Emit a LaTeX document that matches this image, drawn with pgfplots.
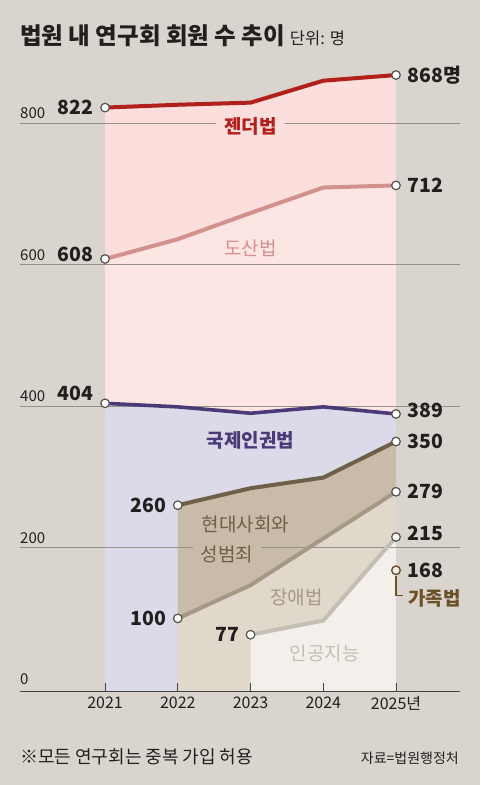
\documentclass[border=0pt]{standalone}
\usepackage{fontspec}
\setmainfont{Noto Sans CJK KR}
\usepackage{pgfplots}
\pgfplotsset{compat=1.18}
\definecolor{bg}{RGB}{217,213,206}
\definecolor{pinkA}{RGB}{252,222,221}
\definecolor{pinkB}{RGB}{253,229,228}
\definecolor{lav}{RGB}{220,218,232}
\definecolor{taupe}{RGB}{200,187,168}
\definecolor{beige}{RGB}{224,216,203}
\definecolor{light}{RGB}{243,240,236}
\definecolor{genderc}{RGB}{178,32,28}
\definecolor{dosanc}{RGB}{210,145,140}
\definecolor{gukjec}{RGB}{75,58,120}
\definecolor{hyeonc}{RGB}{110,96,72}
\definecolor{jangc}{RGB}{165,152,132}
\definecolor{aic}{RGB}{196,190,180}
\definecolor{gajokc}{RGB}{107,80,40}
\definecolor{gridc}{RGB}{150,145,138}
\definecolor{axisc}{RGB}{70,68,65}
\definecolor{txt}{RGB}{34,32,30}
\definecolor{markc}{RGB}{85,82,78}
\newcommand\vlf{\fontsize{19.5}{19.5}\bfseries}
\newcommand\serl{\fontsize{19}{19}\selectfont}
\newcommand\tlf{\fontsize{15}{15}\selectfont}
\begin{document}
\begin{tikzpicture}[x=1pt,y=1pt]
\fill[bg] (0,0) rectangle (480,785);
\node[anchor=base west, inner sep=0, text=txt] at (20,740) {{\fontsize{23.5}{23.5}\bfseries 법원 내 연구회 회원 수 추이}\hspace{5pt}{\fontsize{16.5}{16.5}\selectfont 단위: 명}};
\node[anchor=base west, inner sep=0, text=txt] at (20,21) {\fontsize{18}{18}\selectfont ※모든 연구회는 중복 가입 허용};
\node[anchor=base east, inner sep=0, text=txt] at (459,21) {\fontsize{14}{14}\selectfont 자료=법원행정처};
\begin{axis}[at={(20pt,93pt)}, anchor=south west, scale only axis,
  width=440pt, height=639.6pt,
  xmin=2019.83, xmax=2025.88, ymin=-4, ymax=900,
  axis x line=bottom, axis y line=none,
  x axis line style={-, draw=axisc, line width=1pt},
  xtick={2021,2022,2023,2024,2025},
  xticklabels={2021,2022,2023,2024,2025년},
  tick align=inside, major tick length=9pt,
  xtick style={draw=axisc, line width=0.8pt},
  xticklabel style={font=\fontsize{16}{16}\selectfont, text=txt, yshift=-1pt},
  ytick=\empty, clip=false, axis on top]
% fills
\addplot[draw=none, fill=pinkA] coordinates {(2021,-4) (2021,822) (2022,826) (2023,829) (2024,860) (2025,868) (2025,-4)} -- cycle;
\addplot[draw=none, fill=pinkB] coordinates {(2021,-4) (2021,608) (2022,636) (2023,673) (2024,709) (2025,712) (2025,-4)} -- cycle;
\addplot[draw=none, fill=lav] coordinates {(2021,-4) (2021,404) (2022,399) (2023,390) (2024,399) (2025,389) (2025,-4)} -- cycle;
\addplot[draw=none, fill=taupe] coordinates {(2022,-4) (2022,260) (2023,284) (2024,299) (2025,350) (2025,-4)} -- cycle;
\addplot[draw=none, fill=beige] coordinates {(2022,-4) (2022,100) (2023,147) (2024,213) (2025,279) (2025,-4)} -- cycle;
\addplot[draw=none, fill=light] coordinates {(2023,-4) (2023,77) (2024,97) (2025,215) (2025,-4)} -- cycle;
% grid
\foreach \v in {200,400,600,800} {
  \edef\temp{\noexpand\draw[gridc, line width=0.7pt] (axis cs:2019.83,\v) -- (axis cs:2025.88,\v);}
  \temp
}
\foreach \v in {0,200,400,600,800} {
  \edef\temp{\noexpand\node[anchor=south west, inner sep=0, text=txt, font=\noexpand\tlf] at ([yshift=4pt]axis cs:2019.83,\v) {\v};}
  \temp
}
% series labels
\node[font=\serl\bfseries, text=genderc, fill=pinkA, inner xsep=8pt, inner ysep=3pt] at (axis cs:2023,796) {젠더법};
\node[font=\serl, text=dosanc] at (axis cs:2023,623) {도산법};
\node[font=\serl\bfseries, text=gukjec] at (axis cs:2023,351) {국제인권법};
\node[font=\serl, text=hyeonc, anchor=west, inner sep=1pt] at (axis cs:2022.31,233) {현대사회와};
\node[font=\serl, text=hyeonc, anchor=west, fill=taupe, inner xsep=8pt, inner ysep=3pt] at (axis cs:2022.2,191) {성범죄};
\node[font=\serl, text=jangc] at (axis cs:2023.63,130) {장애법};
\node[font=\serl, text=aic] at (axis cs:2024.02,50) {인공지능};
\node[font=\serl\bfseries, text=gajokc, anchor=west, inner sep=1pt] at (axis cs:2025.15,128) {가족법};
% lines
\addplot[genderc, line width=4pt, line join=round, mark=*, mark size=4.3pt, mark indices={1,5}, mark options={fill=white, draw=markc, line width=1.2pt}] coordinates {(2021,822) (2022,826) (2023,829) (2024,860) (2025,868)};
\addplot[dosanc, line width=4pt, line join=round, mark=*, mark size=4.3pt, mark indices={1,5}, mark options={fill=white, draw=markc, line width=1.2pt}] coordinates {(2021,608) (2022,636) (2023,673) (2024,709) (2025,712)};
\addplot[gukjec, line width=3.6pt, line join=round, mark=*, mark size=4.3pt, mark indices={1,5}, mark options={fill=white, draw=markc, line width=1.2pt}] coordinates {(2021,404) (2022,399) (2023,390) (2024,399) (2025,389)};
\addplot[hyeonc, line width=4pt, line join=round, mark=*, mark size=4.3pt, mark indices={1,4}, mark options={fill=white, draw=markc, line width=1.2pt}] coordinates {(2022,260) (2023,284) (2024,299) (2025,350)};
\addplot[jangc, line width=4pt, line join=round, mark=*, mark size=4.3pt, mark indices={1,4}, mark options={fill=white, draw=markc, line width=1.2pt}] coordinates {(2022,100) (2023,147) (2024,213) (2025,279)};
\addplot[aic, line width=4pt, line join=round, mark=*, mark size=4.3pt, mark indices={1,3}, mark options={fill=white, draw=markc, line width=1.2pt}] coordinates {(2023,77) (2024,97) (2025,215)};
\draw[gajokc, line width=1.2pt] ([yshift=-6pt]axis cs:2025,168) -- ([yshift=-25pt]axis cs:2025,168) -- ([yshift=-25pt, xshift=7pt]axis cs:2025,168);
\addplot[only marks, mark=*, mark size=4.3pt, mark options={fill=light, draw=gajokc, line width=1.4pt}] coordinates {(2025,168)};
% value labels
\node[font=\vlf, text=txt, anchor=east] at ([xshift=-8pt]axis cs:2021,822) {822};
\node[font=\vlf, text=txt, anchor=west] at ([xshift=8pt]axis cs:2025,868) {868명};
\node[font=\vlf, text=txt, anchor=east] at ([xshift=-8pt, yshift=5pt]axis cs:2021,608) {608};
\node[font=\vlf, text=txt, anchor=west] at ([xshift=8pt]axis cs:2025,712) {712};
\node[font=\vlf, text=txt, anchor=east] at ([xshift=-8pt, yshift=10pt]axis cs:2021,404) {404};
\node[font=\vlf, text=txt, anchor=west] at ([xshift=8pt, yshift=4pt]axis cs:2025,389) {389};
\node[font=\vlf, text=txt, anchor=west] at ([xshift=8pt]axis cs:2025,350) {350};
\node[font=\vlf, text=txt, anchor=west] at ([xshift=8pt]axis cs:2025,279) {279};
\node[font=\vlf, text=txt, anchor=west] at ([xshift=8pt, yshift=4pt]axis cs:2025,215) {215};
\node[font=\vlf, text=txt, anchor=west] at ([xshift=8pt]axis cs:2025,168) {168};
\node[font=\vlf, text=txt, anchor=east] at ([xshift=-8pt]axis cs:2022,260) {260};
\node[font=\vlf, text=txt, anchor=east] at ([xshift=-8pt]axis cs:2022,100) {100};
\node[font=\vlf, text=txt, anchor=east] at ([xshift=-8pt]axis cs:2023,77) {77};
\end{axis}
\pgfresetboundingbox
\path[use as bounding box] (0,0) rectangle (480,785);
\end{tikzpicture}
\end{document}
